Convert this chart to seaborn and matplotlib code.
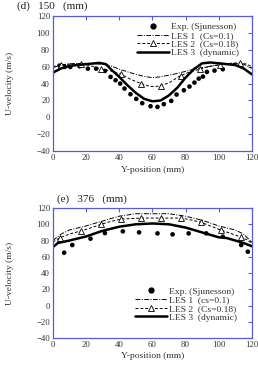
import numpy as np
import pandas as pd
import matplotlib
matplotlib.use('Agg')
from matplotlib import pyplot as plt
from matplotlib.lines import Line2D
import seaborn as sns

# (d) 150 mm
d_exp_y = [4.0, 7.0, 10.5, 16.1, 21.1, 26.1, 31.4, 34.8, 37.8, 40.6, 43.2, 46.8, 50.3, 53.9,
           58.9, 63.1, 66.9, 71.4, 74.6, 79.0, 82.4, 85.4, 88.0, 90.5, 92.9, 97.5, 102.5]
d_exp_u = [61.3, 59.7, 59.7, 60.5, 57.7, 57.7, 55.0, 47.9, 44.0, 40.0, 34.1, 27.4, 21.9, 16.8,
           13.2, 12.4, 15.6, 19.5, 27.0, 32.1, 36.5, 41.2, 45.9, 48.3, 53.8, 55.4, 57.0]
d_les1_y = [0, 5, 10, 20, 30, 35, 40, 45, 50, 55, 60, 65, 70, 75, 80, 85, 90, 100, 110, 115, 120]
d_les1_u = [59, 62, 63.5, 64, 63, 61, 57, 54, 51, 48.5, 47, 48, 50, 52, 54.5, 57, 59, 62, 64, 63, 58]
d_les2_y = [0, 5, 10, 17, 23, 29, 35, 41, 47, 53, 59, 65, 71, 77, 83, 89, 95, 101, 107, 113, 117, 120]
d_les2_u = [60, 62.5, 63, 63.7, 61, 57.4, 55, 51, 45, 40, 36.5, 37, 42, 49.5, 54, 57.4, 60.5, 62.5, 64, 64.5, 63, 60]
d_les2_mk = [5, 17, 29, 41, 53, 65, 77, 89, 101, 113]
d_les3_y = [0, 5, 10, 20, 28, 32, 35, 40, 45, 50, 55, 60, 65, 70, 75, 80, 85, 90, 95, 100, 110, 115, 120]
d_les3_u = [53, 58, 61, 63, 64.5, 63, 57, 48, 38, 29, 22, 19, 20, 26, 35, 47, 57, 64, 65, 64, 62, 58, 51]

# (e) 376 mm
e_exp_y = [6.8, 11.7, 22.7, 31.4, 42.2, 52.0, 63.1, 72.2, 81.9, 92.5, 102.5, 113.6, 117.6]
e_exp_u = [65.0, 74.5, 82.3, 89.2, 91.3, 90.0, 88.8, 87.6, 88.8, 88.8, 84.7, 74.5, 66.3]
e_les1_y = [0, 5, 10, 20, 30, 40, 50, 60, 70, 80, 90, 100, 110, 115, 120]
e_les1_u = [80, 88, 93, 98, 104, 110, 113, 113, 113, 110, 105, 98, 93, 88, 78]
e_les2_y = [0, 4.2, 10, 16.7, 22, 28.9, 35, 41.2, 53.3, 65.3, 77.4, 83, 89.4, 95, 101.3, 107, 113.2, 117, 120]
e_les2_u = [78, 83.5, 88, 91.7, 95, 99.9, 103.5, 106.5, 107.7, 107.7, 107.7, 105.5, 102.4, 98, 92.9, 89, 84.3, 81, 77]
e_les2_mk = [4.2, 16.7, 28.9, 41.2, 53.3, 65.3, 77.4, 89.4, 101.3, 113.2]
e_les3_y = [0, 3, 10, 20, 30, 40, 50, 60, 70, 80, 90, 100, 105, 110, 115, 120]
e_les3_u = [72, 77, 80, 85, 92, 97, 100, 101, 100, 96, 90, 84, 83, 80, 77, 73]

lbl_d = ['Exp. (Sjunesson)', 'LES 1  (Cs=0.1)', 'LES 2  (Cs=0.18)', 'LES 3  (dynamic)']
lbl_e = ['Exp. (Sjunesson)', 'LES 1  (cs=0.1)', 'LES 2  (Cs=0.18)', 'LES 3  (dynamic)']

sns.set_theme(style='white')
plt.rcParams['font.family'] = ['Liberation Serif', 'DejaVu Serif']

blue = '#5a5ad6'
txt = '#333333'
fig = plt.figure(figsize=(2.58, 3.65), dpi=100)
ax1 = fig.add_axes([0.205, 0.586, 0.771, 0.370])
ax2 = fig.add_axes([0.205, 0.074, 0.771, 0.356])


def panel(ax, ey, eu, y1, u1, y2, u2, mkx, y3, u3, labels, loc, anchor):
    sns.scatterplot(x=ey, y=eu, ax=ax, color='black', s=11, edgecolor='none')
    sns.lineplot(x=y1, y=u1, ax=ax, color='black', lw=0.7, linestyle=(0, (5, 1.5, 1, 1.5)))
    sns.lineplot(x=y2, y=u2, ax=ax, color='black', lw=0.7, linestyle=(0, (3, 2)))
    mk = pd.DataFrame({'y': y2, 'u': u2})
    mk = mk[mk.y.isin(mkx)]
    ax.plot(mk.y, mk.u, ls='none', marker='^', ms=4, mfc='white', mec='black', mew=0.6)
    sns.lineplot(x=y3, y=u3, ax=ax, color='black', lw=1.8)
    ax.set_xlim(0, 120)
    ax.set_ylim(-40, 120)
    ax.set_xticks(range(0, 121, 20))
    ax.set_yticks(range(-40, 121, 20))
    ax.tick_params(direction='in', length=3, width=0.8, color=blue, labelsize=6.3,
                   labelcolor=txt, top=True, right=True, pad=2)
    for s in ax.spines.values():
        s.set_color(blue)
        s.set_linewidth(0.9)
    ax.set_xlabel('')
    ax.set_ylabel('')
    h = [Line2D([], [], ls='none', marker='o', ms=3.5, color='black'),
         Line2D([], [], color='black', lw=0.7, linestyle=(0, (5, 1.5, 1, 1.5))),
         Line2D([0, 1, 2], [0, 0, 0], color='black', lw=0.7, linestyle=(0, (3, 2)), marker='^', ms=4,
                mfc='white', mec='black', mew=0.6, markevery=[1]),
         Line2D([], [], color='black', lw=1.8)]
    ax.legend(h, labels, loc=loc, bbox_to_anchor=anchor, frameon=False, fontsize=6.8,
              handlelength=3.4, handletextpad=0.2, labelspacing=0.0, borderpad=0.0,
              labelcolor=txt)


panel(ax1, d_exp_y, d_exp_u, d_les1_y, d_les1_u, d_les2_y, d_les2_u, d_les2_mk, d_les3_y, d_les3_u,
      lbl_d, 'upper right', (0.96, 0.985))
panel(ax2, e_exp_y, e_exp_u, e_les1_y, e_les1_u, e_les2_y, e_les2_u, e_les2_mk, e_les3_y, e_les3_u,
      lbl_e, 'lower right', (0.95, 0.09))

fig.text(0.066, 0.982, '(d)   150   (mm)', fontsize=8, va='center', ha='left', color='#222222')
fig.text(0.222, 0.455, '(e)   376   (mm)', fontsize=8, va='center', ha='left', color='#222222')
for yc in (0.771, 0.252):
    fig.text(0.04, yc, 'U-velocity (m/s)', fontsize=6.8, rotation=90, va='center', ha='center', color=txt)
fig.text(0.59, 0.534, 'Y-position (mm)', fontsize=6.8, ha='center', va='center', color=txt)
fig.text(0.59, 0.025, 'Y-position (mm)', fontsize=6.8, ha='center', va='center', color=txt)

fig.savefig('out.png', dpi=100)
